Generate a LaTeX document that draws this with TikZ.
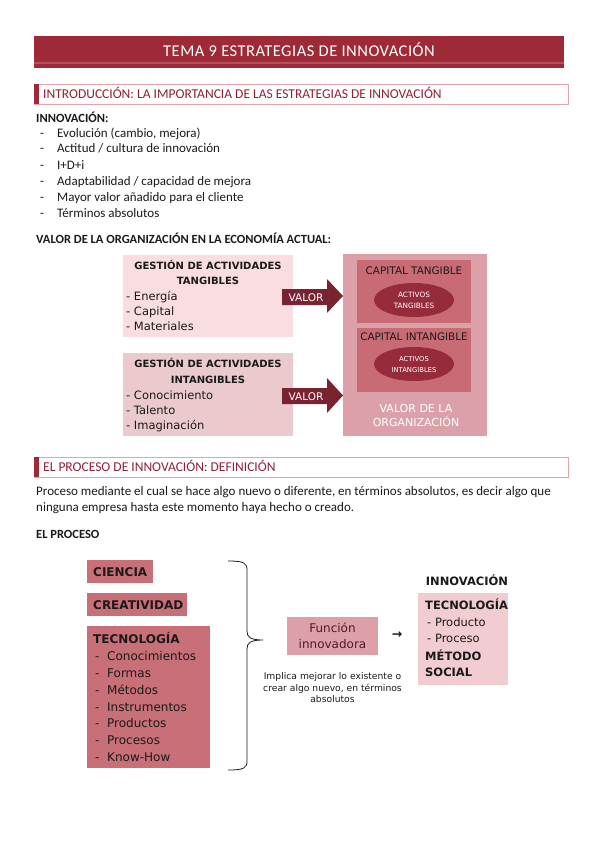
\documentclass[tikz,border=0pt]{standalone}
\usepackage{fontspec}
\setmainfont{Carlito}
\newfontfamily\dv{DejaVu Sans}
\usetikzlibrary{shapes.geometric}
\definecolor{titlec}{HTML}{9E2A38}
\definecolor{stripec}{HTML}{B5505E}
\definecolor{hdrline}{HTML}{E2A3AB}
\definecolor{hdrtext}{HTML}{8E2232}
\definecolor{pinkA}{HTML}{F9DDE0}
\definecolor{pinkB}{HTML}{EBCACD}
\definecolor{arrowc}{HTML}{7A2330}
\definecolor{bigc}{HTML}{DCA1A8}
\definecolor{innerc}{HTML}{C96B75}
\definecolor{ellc}{HTML}{962B3B}
\definecolor{procc}{HTML}{C96F78}
\definecolor{funcc}{HTML}{DDA0A8}
\definecolor{innovc}{HTML}{F1CCD0}
\definecolor{functext}{HTML}{4E1A23}
\definecolor{ink}{HTML}{1A1A1A}
\begin{document}
\begin{tikzpicture}[x=1pt,y=-1pt,
  txt/.style={anchor=base west, inner sep=0pt, text=ink},
  ctxt/.style={anchor=base, inner sep=0pt, text=ink},
  rect/.style={rectangle, inner sep=0pt, draw=none},
  body/.style={font=\fontsize{13}{15}\selectfont},
  bodyb/.style={font=\fontsize{12.5}{15}\selectfont\bfseries},
  dg/.style={font=\dv\fontsize{11.5}{13}\selectfont},
  dgb/.style={font=\dv\bfseries\fontsize{10}{12}\selectfont},
  dgl/.style={font=\dv\fontsize{12}{14}\selectfont},
  dglb/.style={font=\dv\bfseries\fontsize{12}{14}\selectfont},
  hdr/.style={anchor=base west, inner sep=0pt, text=hdrtext, font=\fontsize{13.5}{15}\selectfont}
]
\useasboundingbox[fill=white] (0,0) rectangle (599,848);

% title bar
\node[rect, fill=titlec, minimum width=530pt, minimum height=32pt] (titlebar) at (299,52) {};
\fill[stripec] (titlebar.south west) ++(0,-6) rectangle ([yshift=4pt]titlebar.south east);
\node[anchor=base, inner sep=0pt, text=white, font=\fontsize{16.5}{18}\selectfont\addfontfeature{LetterSpace=3}] (title) at (299,57) {TEMA 9 ESTRATEGIAS DE INNOVACIÓN};

% header 1
\node[rect, draw=hdrline, line width=1pt, minimum width=534pt, minimum height=20pt] (hdr1) at (301.5,94.5) {};
\node[rect, fill=titlec, minimum width=5pt, minimum height=20pt] (acc1) at (36.5,94.5) {};
\node[hdr] (hdr1t) at (43,99) {INTRODUCCIÓN: LA IMPORTANCIA DE LAS ESTRATEGIAS DE INNOVACIÓN};

% innovation list
\node[txt, bodyb] (innov) at (36,122) {INNOVACIÓN:};
\node[txt, body] (d1) at (40,137) {-};
\node[txt, body] (l1) at (57,137) {Evolución (cambio, mejora)};
\node[txt, body] (d2) at (40,153) {-};
\node[txt, body] (l2) at (57,153) {Actitud / cultura de innovación};
\node[txt, body] (d3) at (40,169) {-};
\node[txt, body] (l3) at (57,169) {I+D+i};
\node[txt, body] (d4) at (40,185.5) {-};
\node[txt, body] (l4) at (57,185.5) {Adaptabilidad / capacidad de mejora};
\node[txt, body] (d5) at (40,201.5) {-};
\node[txt, body] (l5) at (57,201.5) {Mayor valor añadido para el cliente};
\node[txt, body] (d6) at (40,217.5) {-};
\node[txt, body] (l6) at (57,217.5) {Términos absolutos};
\node[txt, bodyb] (valorh) at (36,243) {VALOR DE LA ORGANIZACIÓN EN LA ECONOMÍA ACTUAL:};

% left boxes
\node[rect, fill=pinkA, minimum width=170pt, minimum height=82pt] (tang) at (208,296) {};
\node[ctxt, dgb] (tg1) at (208,269.5) {GESTIÓN DE ACTIVIDADES};
\node[ctxt, dgb] (tg2) at (208,284.5) {TANGIBLES};
\node[txt, dg] (tg3) at (126,300.5) {- Energía};
\node[txt, dg] (tg4) at (126,315) {- Capital};
\node[txt, dg] (tg5) at (126,330) {- Materiales};

\node[rect, fill=pinkB, minimum width=170pt, minimum height=83pt] (intang) at (208,394.5) {};
\node[ctxt, dgb] (ig1) at (208,367) {GESTIÓN DE ACTIVIDADES};
\node[ctxt, dgb] (ig2) at (208,383) {INTANGIBLES};
\node[txt, dg] (ig3) at (126,399) {- Conocimiento};
\node[txt, dg] (ig4) at (126,414) {- Talento};
\node[txt, dg] (ig5) at (126,429) {- Imaginación};

% right big box
\node[rect, fill=bigc, minimum width=144pt, minimum height=182pt] (orgbox) at (415,345) {};
\node[rect, fill=innerc, minimum width=114pt, minimum height=63pt] (captang) at (414,291.5) {};
\node[rect, fill=innerc, minimum width=114pt, minimum height=64pt] (capint) at (414,360) {};
\node[ctxt, font=\dv\fontsize{10.4}{12}\selectfont] (ctt) at (414,274) {CAPITAL TANGIBLE};
\node[ctxt, font=\dv\fontsize{10.4}{12}\selectfont] (cit) at (414,340) {CAPITAL INTANGIBLE};
\node[ellipse, fill=ellc, minimum width=80pt, minimum height=34pt, inner sep=0pt] (ell1) at (414,300) {};
\node[ellipse, fill=ellc, minimum width=80pt, minimum height=34pt, inner sep=0pt] (ell2) at (414,364) {};
\node[ctxt, text=white, font=\dv\fontsize{7.3}{8}\selectfont] (a1) at (414,297) {ACTIVOS};
\node[ctxt, text=white, font=\dv\fontsize{7.3}{8}\selectfont] (a2) at (414,308) {TANGIBLES};
\node[ctxt, text=white, font=\dv\fontsize{6.8}{8}\selectfont] (a3) at (414,361) {ACTIVOS};
\node[ctxt, text=white, font=\dv\fontsize{6.8}{8}\selectfont] (a4) at (414,372) {INTANGIBLES};
\node[ctxt, text=white, font=\dv\fontsize{11}{13}\selectfont] (vo1) at (416,412) {VALOR DE LA};
\node[ctxt, text=white, font=\dv\fontsize{11}{13}\selectfont] (vo2) at (416,426) {ORGANIZACIÓN};

% VALOR arrows
\fill[arrowc] (282,289) -- (327,289) -- (327,279) -- (343,296) -- (327,313) -- (327,305) -- (282,305) -- cycle;
\fill[arrowc] (282,388) -- (327,388) -- (327,378) -- (343,395.5) -- (327,413) -- (327,404) -- (282,404) -- cycle;
\node[ctxt, text=white, font=\dv\fontsize{10.5}{12}\selectfont] (v1) at (306,301) {VALOR};
\node[ctxt, text=white, font=\dv\fontsize{10.5}{12}\selectfont] (v2) at (306,400) {VALOR};

% header 2
\node[rect, draw=hdrline, line width=1pt, minimum width=534pt, minimum height=20pt] (hdr2) at (301.5,467) {};
\node[rect, fill=titlec, minimum width=5pt, minimum height=20pt] (acc2) at (36.5,467) {};
\node[hdr] (hdr2t) at (43,471.5) {EL PROCESO DE INNOVACIÓN: DEFINICIÓN};

\node[txt, body] (p1) at (36,495) {Proceso mediante el cual se hace algo nuevo o diferente, en términos absolutos, es decir algo que};
\node[txt, body] (p2) at (36,511) {ninguna empresa hasta este momento haya hecho o creado.};
\node[txt, bodyb] (proc) at (36,538) {EL PROCESO};

% process boxes
\node[rect, fill=procc, minimum width=66pt, minimum height=23pt] (cien) at (120,571.5) {};
\node[txt, dglb] (cient) at (93,576) {CIENCIA};
\node[rect, fill=procc, minimum width=100pt, minimum height=23pt] (crea) at (137,604.5) {};
\node[txt, dglb] (creat) at (93,609) {CREATIVIDAD};
\node[rect, fill=procc, minimum width=123pt, minimum height=142pt] (tecn) at (148.5,697) {};
\node[txt, dglb] (tect) at (93,643) {TECNOLOGÍA};
\node[txt, dgl] (t1d) at (95,660) {-};
\node[txt, dgl] (t1) at (107,660) {Conocimientos};
\node[txt, dgl] (t2d) at (95,677) {-};
\node[txt, dgl] (t2) at (107,677) {Formas};
\node[txt, dgl] (t3d) at (95,694) {-};
\node[txt, dgl] (t3) at (107,694) {Métodos};
\node[txt, dgl] (t4d) at (95,711) {-};
\node[txt, dgl] (t4) at (107,711) {Instrumentos};
\node[txt, dgl] (t5d) at (95,727.5) {-};
\node[txt, dgl] (t5) at (107,727.5) {Productos};
\node[txt, dgl] (t6d) at (95,744) {-};
\node[txt, dgl] (t6) at (107,744) {Procesos};
\node[txt, dgl] (t7d) at (95,761) {-};
\node[txt, dgl] (t7) at (107,761) {Know-How};

% brace
\coordinate (bt) at (228,561);
\coordinate (btip) at (263,640);
\coordinate (bb) at (228,770);
\draw[ink, line width=0.8pt] (bt) .. controls (244,561) and (247,563) .. (247,570) -- (247,631)
  .. controls (247,637) and (250,640) .. (btip)
  .. controls (250,640) and (247,643) .. (247,649) -- (247,761)
  .. controls (247,768) and (244,770) .. (bb);

% function box
\node[rect, fill=funcc, minimum width=91pt, minimum height=38pt] (func) at (332.5,636) {};
\node[ctxt, text=functext, font=\dv\fontsize{12}{14}\selectfont] (f1) at (332.5,632.5) {Función};
\node[ctxt, text=functext, font=\dv\fontsize{12}{14}\selectfont] (f2) at (332.5,648.5) {innovadora};
\node[anchor=center, inner sep=0pt, text=ink, font=\dv\bfseries\fontsize{12.5}{14}\selectfont] (arr) at (397,635) {→};
\node[ctxt, font=\dv\fontsize{9.2}{10}\selectfont] (im1) at (332.5,679.5) {Implica mejorar lo existente o};
\node[ctxt, font=\dv\fontsize{9.2}{10}\selectfont] (im2) at (332.5,691) {crear algo nuevo, en términos};
\node[ctxt, font=\dv\fontsize{9.2}{10}\selectfont] (im3) at (332.5,702.5) {absolutos};

% innovation result
\node[ctxt, font=\dv\bfseries\fontsize{11.5}{14}\selectfont] (innt) at (467,585.5) {INNOVACIÓN};
\node[rect, fill=innovc, minimum width=90pt, minimum height=92pt] (innb) at (463,639) {};
\node[txt, font=\dv\bfseries\fontsize{11.5}{14}\selectfont] (r1) at (425,609) {TECNOLOGÍA};
\node[txt, font=\dv\fontsize{11.5}{14}\selectfont] (r2) at (427,626.5) {- Producto};
\node[txt, font=\dv\fontsize{11.5}{14}\selectfont] (r3) at (427,642.5) {- Proceso};
\node[txt, font=\dv\bfseries\fontsize{11.5}{14}\selectfont] (r4) at (425,660) {MÉTODO};
\node[txt, font=\dv\bfseries\fontsize{11.5}{14}\selectfont] (r5) at (425,676.5) {SOCIAL};
\end{tikzpicture}
\end{document}
